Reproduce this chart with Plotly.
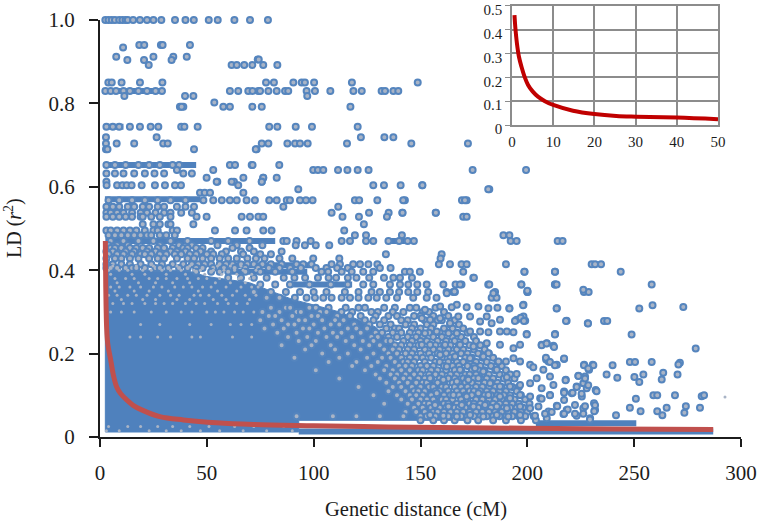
import plotly.graph_objects as go

# ---- fitted decay curves (cM, r2)
curve_x = [2.5, 2.7, 3.1, 3.6, 5.0, 6.2, 7.8, 9.8, 12.5, 15.5, 19.5, 28, 39, 54.6, 71.7, 100, 135, 170, 200, 240, 287]
curve_y = [0.47, 0.36, 0.264, 0.225, 0.185, 0.15, 0.12, 0.103, 0.089, 0.076, 0.065, 0.049, 0.041, 0.034, 0.03, 0.027, 0.024, 0.022, 0.021, 0.019, 0.018]
inset_x = [0.6, 0.8, 1.2, 1.7, 2.3, 3.0, 3.9, 5.0, 6.3, 8.0, 10, 14.8, 20, 25.3, 30.2, 40, 50]
inset_y = [0.46, 0.41, 0.342, 0.285, 0.244, 0.205, 0.168, 0.141, 0.119, 0.1, 0.084, 0.06, 0.046, 0.038, 0.035, 0.031, 0.024]

# ---- outline of the region where points merge into solid colour
dense_x = [2.5, 2.5, 40, 50, 70, 90, 105, 112, 129, 136, 142, 150, 165, 171, 93, 93, 2.5]
dense_y = [0.012, 0.40, 0.40, 0.385, 0.37, 0.33, 0.31, 0.30, 0.264, 0.224, 0.184, 0.15, 0.104, 0.04, 0.04, 0.012, 0.012]

# ---- levels where points merge into a stripe
band_y = [1.0, 0.83, 0.744, 0.652, 0.57, 0.47, 0.47, 0.396, 0.366, 0.412, 0.033, 0.013]
band_start = [2.5, 2.3, 2.3, 2.3, 2.3, 2.5, 134.5, 60, 88, 60, 204, 93]
band_end = [13, 30, 11, 45, 47, 82, 144, 97, 118, 100, 251, 287]

# ---- single points, one list per r2 level
ld_100 = [2.5, 4, 5.5, 7, 9, 10.5, 12, 13, 15.5, 18.7, 22, 25, 28.7, 35.1, 40, 43.9, 50.9, 55.1, 62.9, 70.2, 78.6]
ld_940 = [18.4, 20.7, 28.5, 29.3, 42.1]
ld_934 = [10.8]
ld_912 = [7.6, 25, 34.3, 40.6]
ld_904 = [12.8, 20.6, 33.5]
ld_892 = [22.8, 61.6, 64, 67.5, 71.3, 76.4, 83]
ld_905 = [73.8, 74.3]
ld_850 = [3.9, 5.5, 10.1, 18.7, 29.2, 77.7, 81.4, 90.5, 94.4, 95.9, 100.2, 117.9, 148.7]
ld_830 = [2.5, 5, 7.5, 11, 14, 18, 22, 26, 29, 60.8, 64.7, 69.4, 74.1, 71.4, 74.9, 78.8, 82.7, 86.6, 88.1, 96.7, 100.6, 107.8, 118.6, 122.5, 131.8, 133.4, 137.3, 139.6]
ld_818 = [11.4, 39.8, 43.7, 97]
ld_802 = [53.5]
ld_792 = [37.4, 39, 38.2, 57.7, 60.8, 71.3, 75.7, 117.2]
ld_744 = [3, 6, 9, 14, 18.7, 23.7, 27.3, 38, 39.5, 45.7, 79.2, 83, 91.6, 99.2, 120.6]
ld_719 = [2.8, 26.5, 122.1, 133.1, 137.3]
ld_704 = [2.8, 7.8, 16, 29.6, 31.7, 75.7, 78.8, 87.7, 91.3, 93.6, 97.2, 115.6, 145.7, 172.2]
ld_690 = [2.8, 3.5, 44, 73.3, 72.9]
ld_652 = [3, 7, 12, 18, 23, 28, 34, 37, 60.8, 63.2, 71, 71.4, 83.9]
ld_640 = [99.8, 102, 104.5, 111.4, 115.8, 120.6, 125.7, 174.4, 199.4, 53, 36]
ld_632 = [3, 7, 11, 16, 21, 25.5, 30, 39, 43]
ld_622 = [49.9, 67.1, 76.4, 82.7, 76.4]
ld_612 = [3, 54.9, 62.7, 75.7, 54.6, 61.6, 75.7]
ld_604 = [3.1, 8, 10.5, 12.5, 14.8, 19.5, 25.7, 30.4, 35.1, 37.9, 64.7, 127.9, 132.9, 140.7, 150.8, 150.9]
ld_594 = [182.2, 92.8, 181.7]
ld_586 = [46.8, 49, 51.5, 67.1]
ld_568 = [4, 9, 15, 21, 27, 33, 40, 48.4, 53, 57, 60.8, 64, 68.6, 72.5, 79.2, 82.7, 87.4, 88.9, 93.6, 96.4, 99.5, 119.3, 121.3, 129.8, 142.7, 141.9, 171.6, 169.4, 170.8]
ld_552 = [3, 6, 9, 13, 16, 20, 23, 27, 30, 36, 40, 44, 111.5, 85.8]
ld_538 = [3, 5, 8, 11, 15, 19, 22, 26, 30, 33, 38, 43, 108.4, 125.9, 135.1, 141.5, 157.1, 141.6, 157.2]
ld_528 = [3, 6, 9, 12, 15, 19, 20, 24, 28, 33, 66.3, 70.2, 74.1, 76.4, 49.9, 45.2, 113.5, 121.2, 134.3, 170, 171.6]
ld_510 = [20, 25, 28, 32, 33, 43.7, 123.5]
ld_495 = [3, 5, 8, 11, 14, 17, 21, 25, 27, 34, 36, 53.8, 63.2, 68.6, 114.3, 76.4, 80.3]
ld_484 = [4, 7, 10, 13, 16, 19, 22, 24, 28, 31, 35, 119.3, 124.5, 141.3, 188.8, 191.6]
ld_470 = [5, 11, 18, 25, 33, 41, 52, 60, 70, 85.8, 87.4, 92, 98.6, 113.1, 117, 124.5, 127.9, 135, 140, 144, 146.9, 192.2, 195, 214.2, 216.5]
ld_460 = [91.6, 95.9, 101, 107.3, 4, 8, 13, 28, 37, 43, 55, 64, 76]
ld_453 = [5, 7, 10, 14, 17, 20, 23, 27, 30, 34, 39, 41, 45, 48, 62, 70]
ld_445 = [3, 6, 12, 16, 22, 26, 33, 36, 40, 47, 52, 59, 66, 72, 85]
ld_438 = [4, 8, 11, 15, 19, 21, 24, 28, 31, 35, 38, 42, 45, 50, 53, 57, 67, 75, 80, 133.8, 159.9]
ld_428 = [99.8, 112, 159.4, 90, 84, 3, 7, 10, 14, 18, 23, 27, 30, 36, 41, 44, 48, 52, 56, 60, 64, 69, 73, 77]
ld_414 = [3, 6, 10, 14, 19, 24, 29, 34, 39, 43, 46, 49, 52, 56, 59, 62, 66, 69, 72, 76, 80, 85, 92, 95.1, 99, 108.4, 112.3, 118.5, 121.7, 125.6, 163.8, 158.6, 169.2, 171.6, 190, 230.1, 231.7, 234.5, 129.8]
ld_405 = [3, 5, 8, 12, 15, 17, 21, 26, 28, 32, 37, 41, 45, 48, 53, 58, 63, 68, 74, 79, 84, 89, 94, 101, 106, 111, 116, 131, 136]
ld_396 = [45, 52, 56, 60, 68, 75, 82, 90, 103.7, 106.8, 113.1, 117.8, 123.2, 127.9, 142.7, 145, 149.7, 170, 198.7, 213, 243.7, 198.6, 212.9]
ld_382 = [60, 66, 72, 78, 86, 91, 96, 102, 107, 110.5, 116, 120, 126, 132.9, 137.3, 140.4, 146, 174.7, 175]
ld_366 = [75, 82, 88.9, 98, 108, 116, 123.2, 127.9, 135.7, 140.4, 144.3, 148.5, 152.9, 160.7, 166.4, 169.2, 181.7, 168.5, 182.2, 197.2, 213, 197.2, 212.9, 213.7, 258.2]
ld_348 = [72, 80, 87, 93.6, 100, 106, 114.6, 121, 127.1, 131, 135.7, 140, 144.3, 148.5, 153.6, 162.2, 165.3, 166.1, 184.9, 200.1, 200, 226.5, 228.7]
ld_334 = [78, 84, 91.2, 96.7, 100.6, 104.5, 108.4, 113.1, 117, 121, 125.6, 129.5, 134, 139, 146.6, 152.9, 157.5, 183.3, 185.6]

# ---- scattered points toward the right of the cloud
right_x = [198.2, 191.6, 184.1, 162.3, 165.9, 200, 226.2, 186, 181.8, 177.1, 171.6, 167, 164.6, 159.2, 152.1, 213.8, 218.4, 228.3, 213, 199.7, 206.7, 209.1, 212.2, 208.8, 209.9, 213.8, 217.2, 226.6, 230.6, 228.9, 218, 223.9, 227, 223.1, 226.2, 227.8, 232, 217.2, 220.8, 225.5, 217.2, 231.2, 222.3, 213.8, 209.9, 218.4, 226.2, 231.7, 216.9, 223.1, 229.4, 209.1,
           195, 198.2, 199, 187.2, 183.3, 181, 177.9, 173.2, 167.7, 163.8, 159.2, 154.5, 150.6, 193.5, 190.4, 187.2, 181.8, 177.9, 173.2, 167, 163.1, 157.6, 152.1, 196.6, 193.5, 187.2, 181, 174.8, 168.5, 161.5, 154.5, 150.6,
           201.3, 202.8, 196.6, 193.5, 190, 186.5, 181.8, 179.4, 173.2, 166.2, 159.2, 207.5, 204.4, 210.6, 195, 190.4, 185.7, 179.4, 175.5, 168.5, 162.3, 212.2, 206.7, 201.3, 196.6, 191.9, 187.2, 182.6, 177.1, 172.4, 167, 160.7, 154.5,
           210.6, 206, 201.3, 196.6, 191.9, 187.2, 181.8, 177.1, 171.6, 165.4, 157.6, 205.2, 201.3, 196.6, 190.4, 185.7, 180.2, 174.8, 169.3, 163.1, 156.8, 203.6, 196.6, 191.1, 185.7, 179.4, 173.2, 167, 160.7, 154.5,
           198, 191.6, 213.7, 252.4, 258.6, 273, 194.2, 196.9, 198.4, 218.1, 228.4, 235.9, 237.4, 212.9, 199.7, 248.8, 206.7, 209, 212.5, 278.8, 208.7, 210.6, 212.9, 217.2, 226.5, 230.9, 228.5, 239.9, 248, 250.4, 258.2, 271.4, 270.7, 237.1, 242.1, 250.1, 254.3, 252.4, 263.6, 262.9, 270.3, 217.9, 223.9, 227, 223.1, 221.2, 225.4, 228.5, 232.4, 217.2, 210.6, 206.7, 250.8, 259, 260.8, 269.1, 281.6, 282.7, 248, 253, 260.8, 263.2, 265.2, 274.2, 273.5, 280.8, 241.5, 231.7, 231.3, 227, 226.2, 222.3, 218.9, 217.2, 214, 211.4, 208.3, 229.3]
right_y = [0.317, 0.309, 0.345, 0.345, 0.349, 0.351, 0.353, 0.31, 0.309, 0.313, 0.311, 0.317, 0.311, 0.313, 0.305, 0.309, 0.279, 0.273, 0.247, 0.247, 0.221, 0.225, 0.219, 0.186, 0.181, 0.173, 0.187, 0.173, 0.173, 0.161, 0.137, 0.147, 0.145, 0.121, 0.129, 0.117, 0.113, 0.109, 0.105, 0.097, 0.089, 0.081, 0.077, 0.075, 0.061, 0.065, 0.069, 0.065, 0.055, 0.051, 0.045, 0.045,
           0.281, 0.289, 0.279, 0.281, 0.273, 0.289, 0.277, 0.289, 0.289, 0.273, 0.285, 0.281, 0.285, 0.251, 0.253, 0.253, 0.251, 0.253, 0.253, 0.249, 0.249, 0.253, 0.249, 0.221, 0.213, 0.221, 0.225, 0.217, 0.221, 0.221, 0.221, 0.221,
           0.173, 0.167, 0.181, 0.189, 0.181, 0.181, 0.201, 0.193, 0.189, 0.193, 0.197, 0.161, 0.141, 0.145, 0.151, 0.143, 0.161, 0.157, 0.165, 0.161, 0.169, 0.125, 0.117, 0.129, 0.125, 0.121, 0.121, 0.129, 0.141, 0.137, 0.133, 0.137, 0.141,
           0.101, 0.093, 0.097, 0.101, 0.093, 0.097, 0.101, 0.105, 0.097, 0.101, 0.105, 0.073, 0.069, 0.073, 0.069, 0.073, 0.077, 0.073, 0.077, 0.073, 0.077, 0.051, 0.053, 0.049, 0.053, 0.049, 0.053, 0.049, 0.051, 0.053,
           0.316, 0.308, 0.308, 0.308, 0.316, 0.312, 0.278, 0.286, 0.278, 0.278, 0.272, 0.278, 0.278, 0.246, 0.246, 0.246, 0.22, 0.224, 0.216, 0.212, 0.19, 0.18, 0.172, 0.188, 0.172, 0.172, 0.164, 0.172, 0.18, 0.18, 0.18, 0.178, 0.174, 0.15, 0.142, 0.144, 0.15, 0.132, 0.154, 0.138, 0.15, 0.136, 0.146, 0.14, 0.12, 0.106, 0.104, 0.124, 0.11, 0.106, 0.1, 0.092, 0.092, 0.1, 0.1, 0.1, 0.098, 0.1, 0.07, 0.062, 0.062, 0.052, 0.07, 0.074, 0.058, 0.07, 0.052, 0.076, 0.062, 0.074, 0.056, 0.056, 0.066, 0.056, 0.074, 0.06, 0.056, 0.042]

# ---- points still visible inside and along the edge of the solid part of the cloud
mid_31 = [80, 87, 89, 98, 101, 107, 115, 121, 124, 133, 138, 145, 148, 157]
mid_30 = [76, 84, 92, 94, 103, 106, 113, 118, 127, 130, 137, 142, 151, 154, 161]
mid_29 = [79, 82, 90, 99, 102, 111, 117, 122, 129, 135, 139, 147, 150, 156, 163]
mid_28 = [75, 85, 93, 96, 104, 110, 114, 124, 128, 133, 141, 144, 152, 158, 160, 166]
mid_27 = [81, 88, 91, 100, 108, 112, 119, 126, 131, 136, 143, 147, 153, 156, 164, 168]
mid_26 = [77, 86, 95, 98, 105, 116, 120, 125, 134, 138, 140, 146, 150, 155, 161, 165, 170]
mid_25 = [83, 92, 102, 109, 113, 122, 129, 132, 137, 141, 145, 149, 154, 159, 163, 167, 172]
mid_24 = [88, 97, 106, 111, 118, 127, 130, 135, 139, 144, 148, 151, 156, 160, 165, 169, 175]
mid_23 = [93, 101, 115, 123, 128, 134, 136, 142, 146, 150, 153, 158, 162, 166, 171, 176]
mid_22 = [85, 99, 108, 119, 126, 131, 138, 141, 145, 149, 155, 157, 161, 164, 168, 173, 178]
mid_21 = [96, 110, 122, 133, 137, 140, 144, 147, 152, 156, 159, 163, 167, 170, 175, 180]
mid_20 = [104, 116, 128, 135, 139, 143, 146, 150, 154, 158, 162, 165, 169, 172, 177, 182]
mid_19 = [91, 112, 125, 132, 136, 141, 145, 148, 151, 155, 160, 164, 166, 171, 174, 179, 184]
mid_18 = [107, 120, 130, 138, 142, 144, 147, 152, 157, 159, 163, 167, 170, 173, 176, 181, 186]
mid_17 = [118, 127, 134, 140, 143, 146, 150, 153, 156, 161, 165, 168, 172, 175, 178, 183, 188]
mid_16 = [101, 124, 133, 137, 141, 145, 149, 151, 155, 158, 162, 166, 169, 174, 177, 180, 185, 190]
mid_15 = [129, 136, 139, 143, 147, 150, 154, 157, 160, 164, 167, 171, 173, 176, 179, 182, 187, 192]
mid_14 = [112, 131, 138, 142, 145, 149, 152, 155, 159, 163, 166, 170, 172, 175, 178, 181, 184, 189, 194]
mid_13 = [134, 140, 144, 148, 151, 153, 158, 161, 165, 168, 171, 174, 177, 180, 183, 186, 191]
mid_12 = [121, 137, 141, 146, 150, 154, 156, 160, 162, 166, 169, 172, 176, 179, 182, 185, 188, 193, 196]
mid_11 = [135, 143, 147, 149, 152, 157, 159, 163, 167, 170, 173, 175, 178, 181, 184, 187, 190, 195]
mid_10 = [128, 139, 145, 148, 151, 155, 158, 161, 164, 168, 171, 174, 177, 180, 183, 186, 189, 192, 197]
mid_09 = [141, 146, 150, 153, 156, 160, 162, 165, 169, 172, 176, 179, 182, 185, 188, 191, 194, 199]
mid_08 = [133, 144, 149, 152, 154, 157, 161, 163, 167, 170, 173, 175, 178, 181, 184, 187, 190, 193, 196, 201]
mid_07 = [147, 151, 155, 159, 162, 166, 168, 171, 174, 177, 180, 183, 186, 189, 192, 195, 198]
mid_06 = [143, 148, 152, 156, 158, 161, 164, 167, 170, 173, 176, 179, 182, 185, 188, 191, 194, 197, 200]
mid_05 = [92, 109, 120, 131, 142, 150, 153, 157, 160, 163, 166, 169, 172, 175, 178, 181, 184, 187, 190, 193, 196, 199, 203]
mid_04 = [150, 156, 161, 166, 172, 177, 184, 190, 197, 204]

# ---- small flecks left of x = 75
fleck_41 = [6, 17, 25, 36, 42, 55, 61, 66]
fleck_40 = [4, 9, 13, 20, 24, 29, 33, 38, 44, 47, 53, 58, 63, 67, 73]
fleck_39 = [5, 15, 21, 31, 40, 49, 57, 64, 71]
fleck_38 = [3, 7, 12, 16, 23, 27, 31, 36, 41, 46, 50, 56, 60, 65, 70]
fleck_37 = [8, 18, 26, 34, 42, 54, 61, 68]
fleck_36 = [5, 9, 14, 19, 25, 29, 35, 39, 43, 48, 52, 59, 66, 71, 74]
fleck_35 = [7, 16, 23, 32, 46, 55, 64]
fleck_34 = [4, 8, 13, 17, 22, 28, 33, 37, 44, 47, 51, 57, 62, 68, 73]
fleck_33 = [10, 20, 26, 36, 42, 53, 59, 70]
fleck_32 = [6, 11, 15, 21, 26, 30, 34, 40, 45, 49, 55, 60, 64, 69]
fleck_30 = [5, 10, 16, 24, 31, 38, 43, 50, 54, 58, 63, 67, 72]
fleck_27 = [19, 28, 42, 52, 61, 66, 71]
fleck_24 = [14, 19, 27, 33, 43, 47, 62, 71]
fleck_025 = [4, 13, 19, 27, 34, 42, 51, 63, 72, 86]
fleck_015 = [3, 9, 23, 31, 38, 47, 56, 67, 78, 90]
fleck_096 = [292.5]

x_ticks = [0, 50, 100, 150, 200, 250, 300]
y_ticks = [0, 0.2, 0.4, 0.6, 0.8, 1.0]
y_labels = ["0", "0.2", "0.4", "0.6", "0.8", "1.0"]
inset_x_ticks = [0, 10, 20, 30, 40, 50]
inset_y_ticks = [0, 0.1, 0.2, 0.3, 0.4, 0.5]
inset_y_labels = ["0", "0.1", "0.2", "0.3", "0.4", "0.5"]

levels = [(1.0, ld_100), (.94, ld_940), (.934, ld_934), (.912, ld_912), (.904, ld_904), (.892, ld_892), (.905, ld_905),
          (.85, ld_850), (.83, ld_830), (.818, ld_818), (.802, ld_802), (.792, ld_792), (.744, ld_744), (.719, ld_719),
          (.704, ld_704), (.69, ld_690), (.652, ld_652), (.64, ld_640), (.632, ld_632), (.622, ld_622), (.612, ld_612),
          (.604, ld_604), (.594, ld_594), (.586, ld_586), (.568, ld_568), (.552, ld_552), (.538, ld_538), (.528, ld_528),
          (.51, ld_510), (.495, ld_495), (.484, ld_484), (.47, ld_470), (.46, ld_460), (.453, ld_453), (.445, ld_445), (.438, ld_438),
          (.428, ld_428), (.414, ld_414), (.405, ld_405), (.396, ld_396), (.382, ld_382), (.366, ld_366), (.348, ld_348), (.334, ld_334),
          (.31, mid_31), (.30, mid_30), (.29, mid_29), (.28, mid_28), (.27, mid_27), (.26, mid_26), (.25, mid_25),
          (.24, mid_24), (.23, mid_23), (.22, mid_22), (.21, mid_21), (.20, mid_20), (.19, mid_19), (.18, mid_18), (.17, mid_17),
          (.16, mid_16), (.15, mid_15), (.14, mid_14), (.13, mid_13), (.12, mid_12), (.11, mid_11), (.10, mid_10), (.09, mid_09),
          (.08, mid_08), (.07, mid_07), (.06, mid_06), (.05, mid_05), (.04, mid_04)]
fleck_levels = [(.41, fleck_41), (.40, fleck_40), (.39, fleck_39), (.38, fleck_38), (.37, fleck_37), (.36, fleck_36), (.35, fleck_35),
                (.34, fleck_34), (.33, fleck_33), (.32, fleck_32), (.30, fleck_30), (.27, fleck_27), (.24, fleck_24),
                (.025, fleck_025), (.015, fleck_015), (.096, fleck_096)]

BLUE = "#4F81BD"
GREY = "#A9B4C6"
SERIF = "Liberation Serif"
INK = "#1c1c1c"

fig = go.Figure()
fig.add_trace(go.Scatter(x=dense_x, y=dense_y, mode="lines", fill="toself", fillcolor=BLUE, line=dict(color=BLUE, width=1)))
for y_val, x0, x1 in zip(band_y, band_start, band_end):
    fig.add_trace(go.Scatter(x=[x0, x1], y=[y_val, y_val], mode="lines", line=dict(color=BLUE, width=6), cliponaxis=False))
pt_x = [v for lvl, xs in levels for v in xs] + right_x
pt_y = [lvl for lvl, xs in levels for v in xs] + right_y
fig.add_trace(go.Scatter(x=pt_x, y=pt_y, mode="markers", cliponaxis=False,
                         marker=dict(size=6, color=GREY, line=dict(color="#5585BE", width=2))))
fig.add_trace(go.Scatter(x=[v for lvl, xs in fleck_levels for v in xs], y=[lvl for lvl, xs in fleck_levels for v in xs],
                         mode="markers", marker=dict(size=3, color=GREY)))
fig.add_trace(go.Scatter(x=curve_x, y=curve_y, mode="lines", line=dict(color="#C0504D", width=5, shape="spline")))
fig.add_trace(go.Scatter(x=inset_x, y=inset_y, mode="lines", xaxis="x2", yaxis="y2",
                         line=dict(color="#C00000", width=4, shape="spline")))

fig.update_layout(
    template="none",
    width=760, height=525, showlegend=False, paper_bgcolor="white", plot_bgcolor="white",
    margin=dict(l=100, r=19, t=5, b=88),
    font=dict(family=SERIF, color=INK),
    xaxis=dict(range=[0, 300], tickvals=x_ticks, showgrid=False, zeroline=False, showline=True, linecolor=INK, linewidth=2,
               ticks="outside", ticklen=8, tickwidth=2, tickcolor=INK, tickfont=dict(size=21, family=SERIF), ticklabelstandoff=8),
    yaxis=dict(range=[0, 1], domain=[0, 417 / 432], tickvals=y_ticks, ticktext=y_labels, showgrid=False, zeroline=False, showline=True,
               linecolor=INK, linewidth=2, ticks="outside", ticklen=9, tickwidth=2, tickcolor=INK,
               tickfont=dict(size=21, family=SERIF), ticklabelstandoff=10),
    xaxis2=dict(range=[0, 50], domain=[412 / 641, 618 / 641], anchor="y2", tickvals=inset_x_ticks, showgrid=True, gridcolor="#8c8c8c",
                gridwidth=1.5, zeroline=False, showline=True, linecolor="#8c8c8c", linewidth=1.5, mirror=True,
                tickfont=dict(size=15, family=SERIF), ticks="", ticklabelstandoff=2),
    yaxis2=dict(range=[0, 0.5], domain=[312 / 432, 431.3 / 432], anchor="x2", tickvals=inset_y_ticks, ticktext=inset_y_labels, showgrid=True,
                gridcolor="#8c8c8c", gridwidth=1.5, zeroline=False, showline=True, linecolor="#8c8c8c", linewidth=1.5, mirror=True,
                ticks="outside", ticklen=5, tickcolor="#8c8c8c", tickfont=dict(size=15, family=SERIF), ticklabeloverflow="allow",
                ticklabelshift=4),
    annotations=[
        dict(text="Genetic distance (cM)", xref="paper", yref="paper", x=316 / 641, y=-72 / 432, xanchor="center", yanchor="middle",
             showarrow=False, font=dict(size=20.5, family=SERIF, color=INK)),
        dict(text="LD (<i>r</i><sup>2</sup>)", xref="paper", yref="paper", x=-87 / 641, y=209 / 432, xanchor="center", yanchor="middle",
             textangle=-90, showarrow=False, font=dict(size=20, family=SERIF, color=INK)),
    ],
)
fig.write_html("out.html", config={"displayModeBar": False}, post_script="document.body.style.margin='0';")
